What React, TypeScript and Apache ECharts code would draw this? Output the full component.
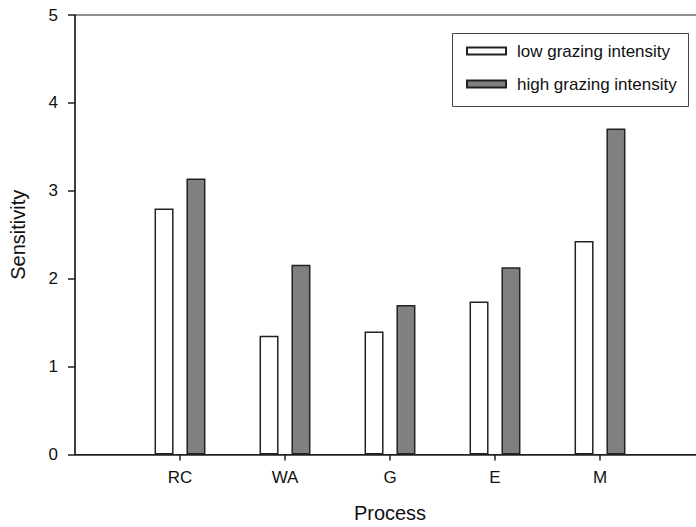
import React, { useEffect, useRef } from "react";
import * as echarts from "echarts";

const categories = ["RC", "WA", "G", "E", "M"];
const lowValues = [2.8, 1.35, 1.4, 1.74, 2.43];
const highValues = [3.14, 2.16, 1.7, 2.13, 3.71];
const seriesNames = ["low grazing intensity", "high grazing intensity"];
const yTicks = [0, 1, 2, 3, 4, 5];

const FONT = "Arial, 'Liberation Sans', sans-serif";

export default function App() {
  const ref = useRef<HTMLDivElement>(null);
  useEffect(() => {
    if (!ref.current) return;
    const chart = echarts.init(ref.current, null, { renderer: "svg" });
    const padded = ["", ...categories, ""];
    const pad = (arr: number[]) => [null, ...arr, null];
    chart.setOption({
      animation: false,
      backgroundColor: "#fff",
      textStyle: { fontFamily: FONT },
      grid: {
        left: 75,
        top: 15,
        width: 630,
        height: 439.5,
        outerBoundsMode: "none",
        containLabel: false,
        show: true,
        borderColor: "#222",
        borderWidth: 1,
        backgroundColor: "transparent",
      },
      xAxis: {
        type: "category",
        data: padded,
        boundaryGap: false,
        name: "Process",
        nameLocation: "middle",
        nameGap: 48,
        nameTextStyle: { fontSize: 20, color: "#111", fontFamily: FONT },
        axisLine: { show: true, lineStyle: { color: "#222", width: 1.5 } },
        axisTick: {
          show: true,
          length: 6,
          lineStyle: { color: "#222", width: 1.5 },
          interval: (idx: number, val: string) => val !== "",
        },
        axisLabel: {
          interval: 0,
          margin: 14,
          fontSize: 17,
          color: "#111",
          fontFamily: FONT,
        },
        splitLine: { show: false },
      },
      yAxis: {
        type: "value",
        min: yTicks[0],
        max: yTicks[yTicks.length - 1],
        interval: 1,
        name: "Sensitivity",
        nameLocation: "middle",
        nameGap: 47,
        nameRotate: 90,
        nameTextStyle: { fontSize: 20, color: "#111", fontFamily: FONT },
        axisLine: { show: true, lineStyle: { color: "#222", width: 1.5 } },
        axisTick: { show: true, length: 7, lineStyle: { color: "#222", width: 1.5 } },
        axisLabel: { margin: 17, fontSize: 17, color: "#111", fontFamily: FONT },
        splitLine: { show: false },
      },
      legend: {
        orient: "vertical",
        left: 466,
        top: 42.5,
        itemWidth: 39,
        itemHeight: 7,
        itemGap: 16,
        padding: 0,
        icon: "rect",
        textStyle: {
          fontSize: 17,
          color: "#111",
          fontFamily: FONT,
          padding: [0, 0, 0, 6],
        },
        data: seriesNames,
      },
      graphic: [
        {
          type: "rect",
          shape: { x: 452.5, y: 33.5, width: 236, height: 73 },
          style: { fill: "none", stroke: "#444", lineWidth: 1 },
          silent: true,
        },
      ],
      series: [
        {
          name: seriesNames[0],
          type: "bar",
          data: pad(lowValues),
          barWidth: 19,
          barGap: "68%",
          itemStyle: { color: "#ffffff", borderColor: "#222", borderWidth: 1.5 },
        },
        {
          name: seriesNames[1],
          type: "bar",
          data: pad(highValues),
          barWidth: 19,
          barGap: "68%",
          itemStyle: { color: "#808080", borderColor: "#222", borderWidth: 1.5 },
        },
      ],
    });
    return () => chart.dispose();
  }, []);
  return <div ref={ref} style={{ width: 696, height: 527, position: "absolute", left: 0, top: 0 }} />;
}
